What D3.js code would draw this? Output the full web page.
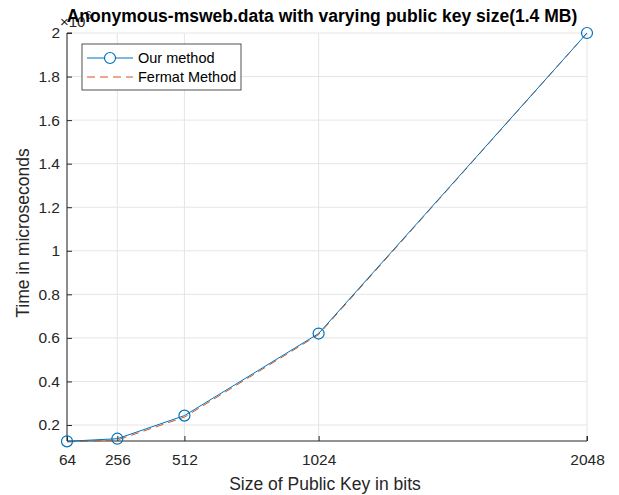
<!DOCTYPE html>
<html>
<head>
<meta charset="UTF-8">
<script src="https://d3js.org/d3.v7.min.js"></script>
<style>
    body { margin: 0; background: #fff; font-family: "Liberation Sans", Arial, sans-serif; }
</style>
</head>
<body>
<svg id="chart" width="619" height="495"></svg>
<script>
// data (time in units of 10^6 microseconds)
const keySizes = [64, 256, 512, 1024, 2048];
const ourMethod = [0.125, 0.137, 0.243, 0.62, 2.0];
const fermatMethod = [0.122, 0.131, 0.236, 0.615, 2.0];
const yTicks = [0.2, 0.4, 0.6, 0.8, 1, 1.2, 1.4, 1.6, 1.8, 2];
const yTickLabels = ["0.2", "0.4", "0.6", "0.8", "1", "1.2", "1.4", "1.6", "1.8", "2"];

const svg = d3.select("#chart");
const plotL = 67, plotR = 587, plotT = 33, plotB = 441;

const x = d3.scaleLinear().domain([64, 2048]).range([plotL, plotR]);
const y = d3.scaleLinear().domain([0.1265, 2]).range([plotB, plotT]);

// grid
const grid = svg.append("g");
grid.selectAll(".gx").data(keySizes).enter().append("line")
    .attr("x1", d => x(d)).attr("x2", d => x(d))
    .attr("y1", plotT).attr("y2", plotB)
    .attr("stroke", "#e5e5e5").attr("stroke-width", 1);
grid.selectAll(".gy").data(yTicks).enter().append("line")
    .attr("x1", plotL).attr("x2", plotR)
    .attr("y1", d => y(d)).attr("y2", d => y(d))
    .attr("stroke", "#e5e5e5").attr("stroke-width", 1);

// axes
const xAxis = d3.axisBottom(x).tickValues(keySizes).tickSize(-5).tickPadding(13).tickFormat(d3.format("d"));
const gx = svg.append("g").attr("transform", `translate(0,${plotB})`).call(xAxis);
gx.select(".domain").attr("stroke", "#262626").attr("d", `M${plotL},0H${plotR}V-5`);
gx.selectAll(".tick line").attr("stroke", "#262626");

const yAxis = d3.axisLeft(y).tickValues(yTicks).tickSize(-5).tickPadding(7)
    .tickFormat((d, i) => yTickLabels[i]);
const gy = svg.append("g").attr("transform", `translate(${plotL},0)`).call(yAxis);
gy.select(".domain").attr("stroke", "#262626").attr("d", `M0,${plotB}V${plotT}H5`);
gy.selectAll(".tick line").attr("stroke", "#262626");

[gx, gy].forEach(g => g.attr("font-size", 15.5)
    .attr("font-family", "'Liberation Sans', Arial, sans-serif")
    .selectAll("text").attr("fill", "#262626"));

// lines
const line = d3.line().x((d, i) => x(keySizes[i])).y(d => y(d));
svg.append("path").datum(fermatMethod).attr("d", line)
    .attr("fill", "none").attr("stroke", "#D95319").attr("stroke-width", 1)
    .attr("stroke-dasharray", "8,5");
svg.append("path").datum(ourMethod).attr("d", line)
    .attr("fill", "none").attr("stroke", "#0072BD").attr("stroke-width", 1);
svg.selectAll(".pt").data(ourMethod).enter().append("circle")
    .attr("cx", (d, i) => x(keySizes[i])).attr("cy", d => y(d)).attr("r", 5.5)
    .attr("fill", "none").attr("stroke", "#0072BD").attr("stroke-width", 1.2);

// exponent label (partly under the title, as in the original)
const ex = svg.append("text").attr("x", 60).attr("y", 27).attr("font-size", 15).attr("fill", "#262626");
ex.append("tspan").text("\u00d710");
ex.append("tspan").attr("dy", -8).attr("font-size", 11).text("6");

// title
svg.append("text").attr("x", 322).attr("y", 22).attr("text-anchor", "middle")
    .attr("font-size", 17.5).attr("font-weight", "bold").attr("fill", "#000")
    .text("Anonymous-msweb.data with varying public key size(1.4 MB)");

// axis labels
svg.append("text").attr("x", 325).attr("y", 490).attr("text-anchor", "middle")
    .attr("font-size", 17.5).attr("fill", "#262626").text("Size of Public Key in bits");
svg.append("text").attr("transform", "translate(29,233) rotate(-90)").attr("text-anchor", "middle")
    .attr("font-size", 17.5).attr("fill", "#262626").text("Time in microseconds");

// legend
const lg = svg.append("g");
lg.append("rect").attr("x", 82).attr("y", 44).attr("width", 159).attr("height", 46)
    .attr("fill", "#fff").attr("stroke", "#262626").attr("stroke-width", 0.8);
lg.append("line").attr("x1", 87).attr("x2", 133).attr("y1", 58).attr("y2", 58)
    .attr("stroke", "#0072BD");
lg.append("circle").attr("cx", 110).attr("cy", 58).attr("r", 5.5)
    .attr("fill", "#fff").attr("stroke", "#0072BD").attr("stroke-width", 1.2);
lg.append("text").attr("x", 138).attr("y", 63).attr("font-size", 14.5).attr("fill", "#000").text("Our method");
lg.append("line").attr("x1", 87).attr("x2", 133).attr("y1", 77).attr("y2", 77)
    .attr("stroke", "#D95319").attr("stroke-dasharray", "8,5");
lg.append("text").attr("x", 138).attr("y", 82).attr("font-size", 14.5).attr("fill", "#000").text("Fermat Method");
</script>
</body>
</html>
